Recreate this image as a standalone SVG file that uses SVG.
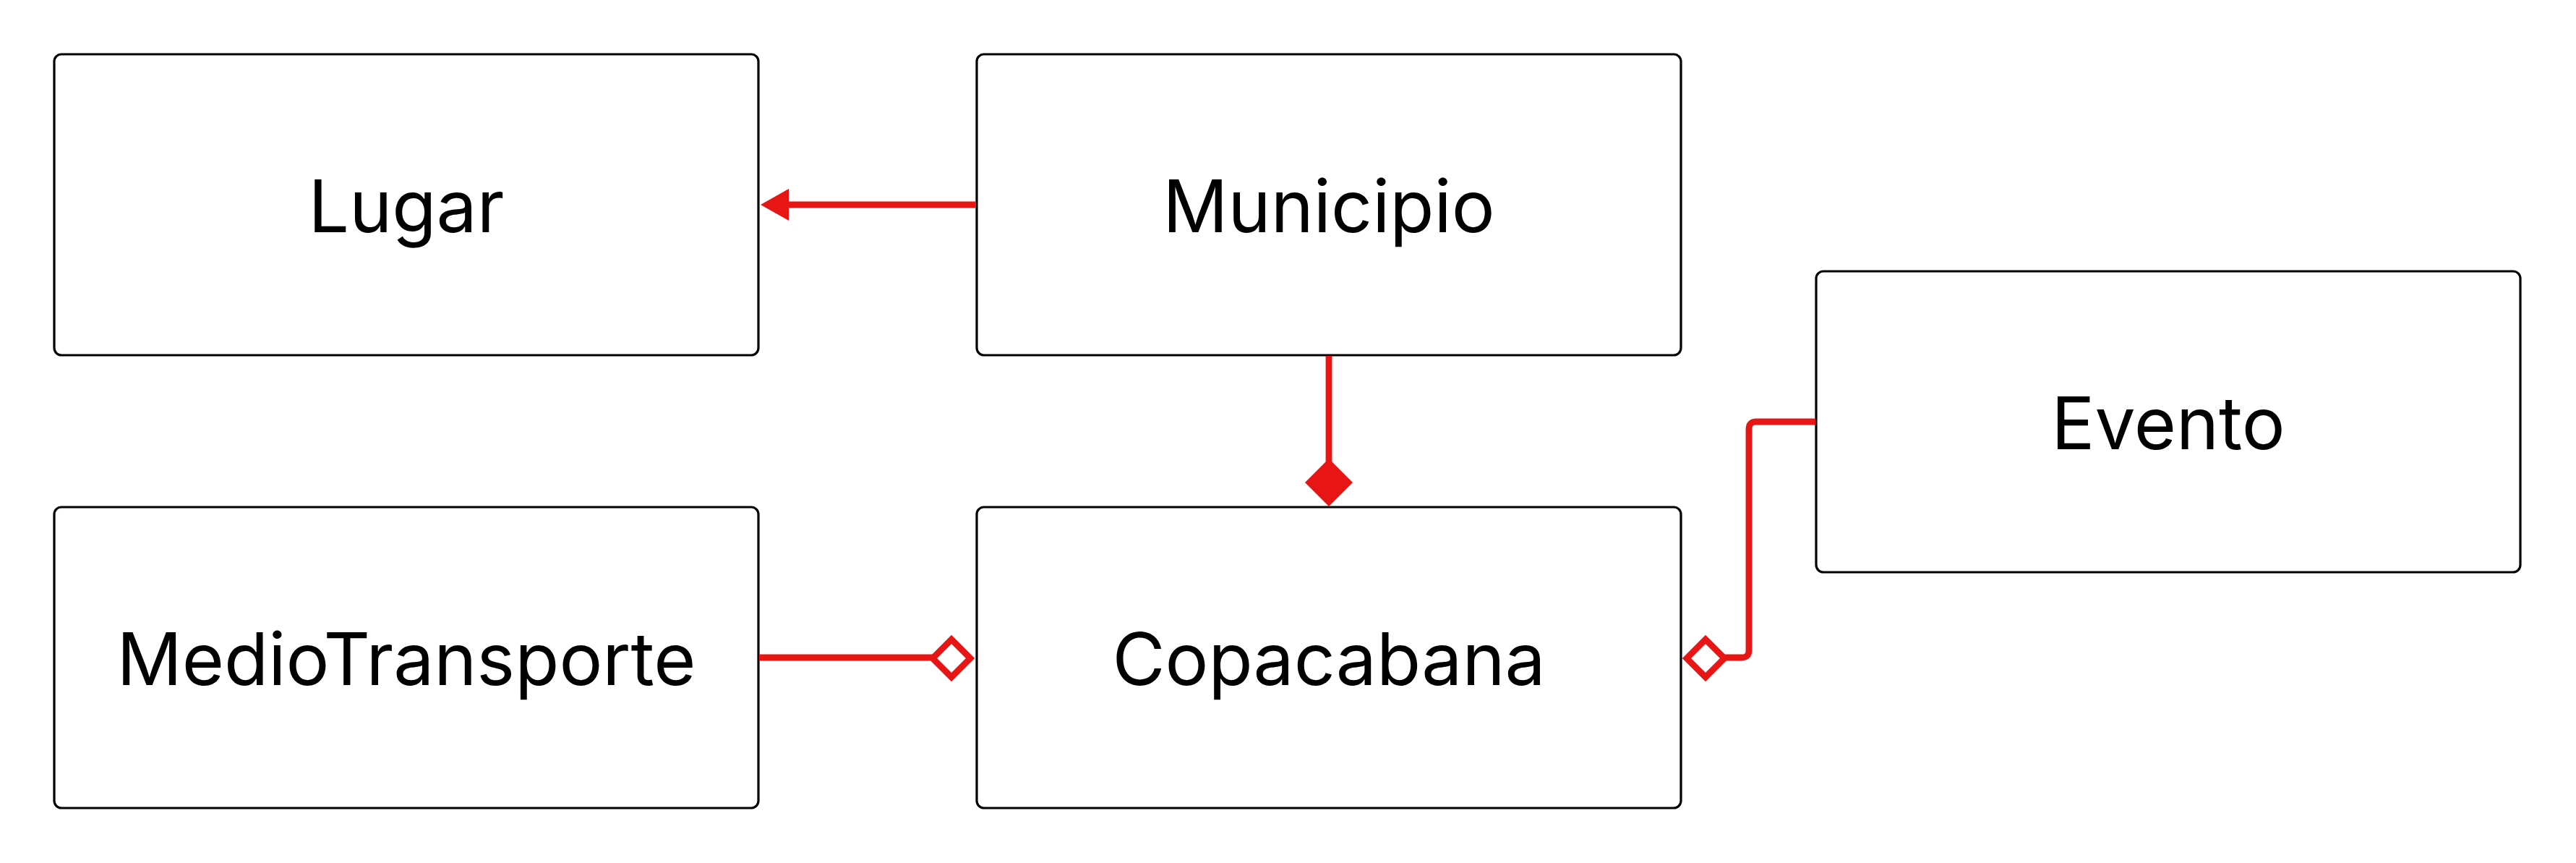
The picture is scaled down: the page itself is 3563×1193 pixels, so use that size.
<svg xmlns="http://www.w3.org/2000/svg" width="3563" height="1193" viewBox="0 0 3563 1193">
<style>
.box{fill:#ffffff;stroke:#000000;stroke-width:3.2}
.lbl{font-family:Inter,"Noto Sans","Liberation Sans",sans-serif;font-size:100px;fill:#000000;text-anchor:middle}
.edge{fill:none;stroke:#E81515;stroke-width:8.8}
.head{fill:#E81515;stroke:none}
.hollow{fill:#ffffff;stroke:#E81515;stroke-width:8.8;stroke-linejoin:miter}
</style>
<rect width="3563" height="1193" fill="#ffffff"/>
<g id="Lugar"><rect class="box" x="75" y="75" width="974" height="416" rx="10"/><text class="lbl" x="562" y="321">Lugar</text></g>
<g id="Municipio"><rect class="box" x="1351" y="75" width="974" height="416" rx="10"/><text class="lbl" x="1838" y="321">Municipio</text></g>
<g id="Evento"><rect class="box" x="2512" y="375" width="974" height="416" rx="10"/><text class="lbl" x="2999" y="621">Evento</text></g>
<g id="MedioTransporte"><rect class="box" x="75" y="701" width="974" height="416" rx="10"/><text class="lbl" x="562" y="947">MedioTransporte</text></g>
<g id="Copacabana"><rect class="box" x="1351" y="701" width="974" height="416" rx="10"/><text class="lbl" x="1838" y="947">Copacabana</text></g>
<g id="connectors">
<path class="edge" d="M1349 283 H1090"/>
<polygon class="head" points="1052,283 1091,261 1091,305"/>
<path class="edge" d="M1838 492 V640"/>
<polygon class="head" points="1838,634 1871,667 1838,700 1805,667"/>
<path class="edge" d="M1050 909 H1290"/>
<polygon class="hollow" points="1290,910 1316,884 1342,910 1316,936"/>
<path class="edge" d="M2511 583 H2429 Q2419 583 2419 593 V899 Q2419 909 2409 909 H2385"/>
<polygon class="hollow" points="2333,910 2359,884 2385,910 2359,936"/>
</g>
</svg>
